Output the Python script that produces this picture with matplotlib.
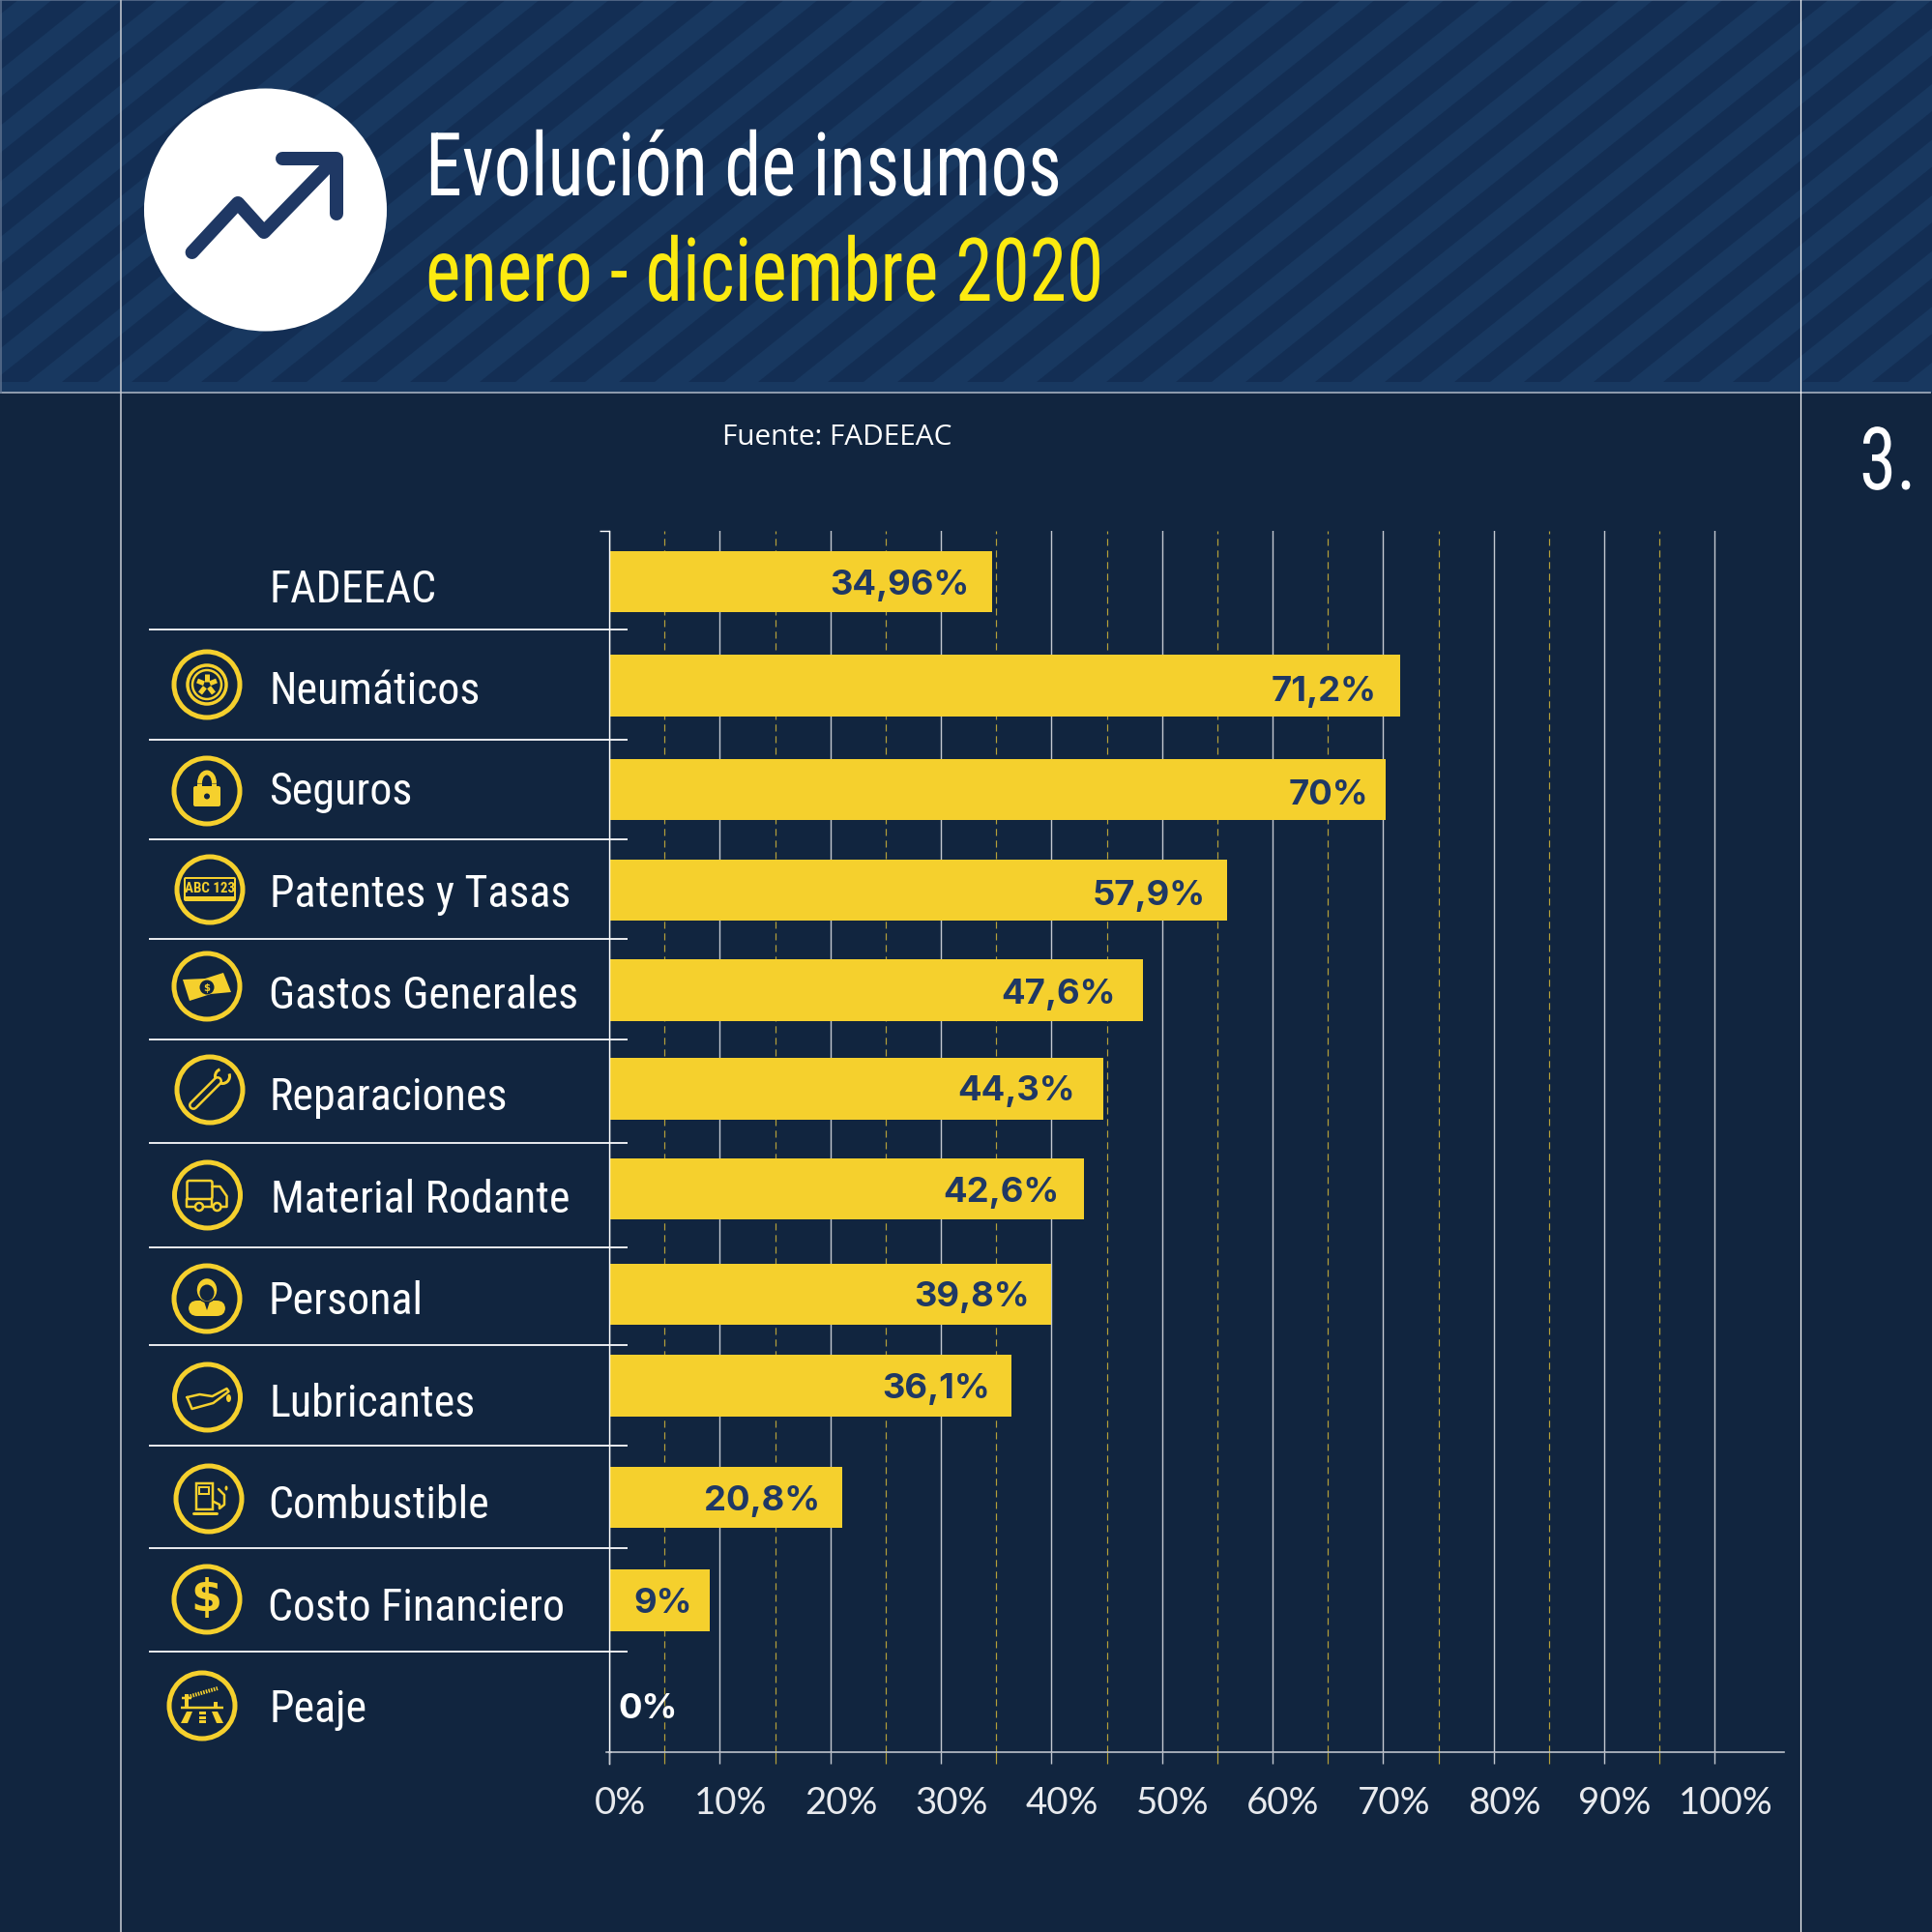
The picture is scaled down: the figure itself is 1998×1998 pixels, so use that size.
import matplotlib
matplotlib.use("Agg")
import matplotlib.pyplot as plt
from matplotlib import font_manager as fm
from matplotlib.patches import Circle, Rectangle, Polygon, FancyBboxPatch, Arc, Ellipse
from matplotlib.patheffects import AbstractPathEffect
from matplotlib.transforms import Affine2D, ScaledTranslation

# ---- data ----
categories = ["FADEEAC", "Neumáticos", "Seguros", "Patentes y Tasas", "Gastos Generales",
              "Reparaciones", "Material Rodante", "Personal", "Lubricantes", "Combustible",
              "Costo Financiero", "Peaje"]
# bar lengths as drawn in the picture (they differ slightly from the printed labels)
bar_values = [34.67, 71.5, 70.2, 55.85, 48.3, 44.7, 42.9, 40.0, 36.4, 21.1, 9.1, 0]
value_labels = ["34,96%", "71,2%", "70%", "57,9%", "47,6%", "44,3%", "42,6%", "39,8%",
                "36,1%", "20,8%", "9%", "0%"]
major_ticks = [0, 10, 20, 30, 40, 50, 60, 70, 80, 90, 100]
minor_ticks = [5, 15, 25, 35, 45, 55, 65, 75, 85, 95]
title_1 = "Evolución de insumos"
title_2 = "enero - diciembre 2020"
source = "Fuente: FADEEAC"
page_number = "3."

# ---- layout (pixels) ----
bar_centers = [602.5, 710, 817.5, 921.5, 1025, 1127, 1230.5, 1339.5, 1434, 1549.5, 1656, 1766]
bar_h = 63.5
label_x = [279, 279, 278, 279, 278, 279, 280, 278, 279, 277, 277, 279]
label_base = [623, 728, 832, 938, 1043, 1148, 1254, 1359, 1465, 1570, 1676, 1781]
value_right = [1003, 1424, 1415, 1247, 1154, 1112, 1096, 1065, 1024, 848, 716]
value_base = [615, 725, 832, 936, 1038, 1138, 1243, 1351, 1446, 1562, 1668, 1777]
separators = [652, 766, 869, 972, 1076, 1183, 1291, 1392, 1496, 1602, 1709]
icon_pos = {"tire": (214, 709), "lock": (214, 819), "plate": (217, 921), "money": (214, 1021),
            "wrench": (217, 1128), "truck": (214.5, 1237), "person": (214, 1344),
            "oil": (214.5, 1446), "fuel": (216, 1551), "dollar": (214, 1655), "toll": (209, 1765)}

BG = "#11253f"; DARK = "#132e54"; LIGHT = "#183860"; YEL = "#f5d02d"; TY = "#fcea10"
LINE = "#c3c8d0"; NAVY = "#1f3864"; DASH = "#b5a03a"; EDGE = "#9aa6b6"
avail = {f.name for f in fm.fontManager.ttflist}
def pick(*names):
    for n in names:
        if n in avail:
            return n
    return "DejaVu Sans"
NARROW = pick("Liberation Sans Narrow", "Roboto Condensed", "Open Sans Condensed", "DejaVu Sans")
px = 0.72


class Squeeze(AbstractPathEffect):
    """Draw a text narrower about a vertical line; the text stays a text artist."""
    def __init__(self, sx, x0):
        super().__init__()
        self.sx, self.x0 = sx, x0

    def draw_path(self, renderer, gc, tpath, affine, rgbFace=None):
        squeeze = Affine2D().translate(-self.x0, 0).scale(self.sx, 1).translate(self.x0, 0)
        renderer.draw_path(gc, tpath, affine + squeeze, rgbFace)


fig = plt.figure(figsize=(19.99, 19.99), dpi=100, facecolor=BG)
bg = fig.add_axes([0, 0, 1, 1], zorder=0)
bg.set_xlim(0, 1999); bg.set_ylim(1999, 0); bg.axis("off")

# header
bg.add_patch(Rectangle((0, 0), 1999, 407, fc=LIGHT, ec="none"))
run = 396 / 0.8
for k in range(-10, 30):
    x0 = k * 72 + 64
    bg.add_patch(Polygon([(x0, 396), (x0 + 37, 396), (x0 + 37 + run, 0), (x0 + run, 0)], fc=DARK, ec="none"))
bg.set_xlim(0, 1999); bg.set_ylim(1999, 0)
bg.plot([0, 1996], [406.7, 406.7], color=EDGE, lw=1.8 * px)
bg.plot([0, 1999], [1, 1], color="#5f7391", lw=1.5 * px)
bg.plot([1, 1], [0, 407], color="#5f7391", lw=1.5 * px)
bg.plot([125, 125], [0, 1999], color=LINE, lw=1.6 * px)
bg.plot([1862.3, 1862.3], [0, 1999], color="white", lw=1.2 * px)

# header icon
bg.add_patch(Circle((274.5, 218), 125.5, fc="white", ec="none"))
bg.plot([198.6, 246, 273, 344], [262, 211, 241, 168], color=NAVY, lw=14 * px,
        solid_capstyle="round", solid_joinstyle="round")
bg.plot([292, 348, 348], [165, 165, 222], color=NAVY, lw=14 * px,
        solid_capstyle="round", solid_joinstyle="round")

bg.text(440, 203, title_1, color="white", family=NARROW, fontsize=91 * px, va="baseline",
        path_effects=[Squeeze(0.84, 440)])
bg.text(440, 312, title_2, color=TY, family=NARROW, fontsize=91 * px, va="baseline",
        path_effects=[Squeeze(0.852, 440)])
bg.text(747, 452, source, color="white", family="Open Sans", fontsize=29.8 * px, va="center")
bg.text(1923, 507, page_number, color="white", family=NARROW, fontsize=90 * px, va="baseline",
        path_effects=[Squeeze(0.86, 1923)])

# row labels and separators
for y in separators:
    bg.plot([155, 648], [y, y], color="#e4e6ea", lw=2 * px)
for name, x, y in zip(categories, label_x, label_base):
    bg.text(x, y, name, color="white", family=NARROW, fontsize=46 * px, va="baseline")

# icons
def ring(cx, cy):
    bg.add_patch(Circle((cx, cy), 34, fc="none", ec=YEL, lw=5 * px))

def line(pts, cx, cy, lw=3, c=YEL, cap="round"):
    bg.plot([cx + p[0] for p in pts], [cy + p[1] for p in pts], color=c, lw=lw * px,
            solid_capstyle=cap, solid_joinstyle="round")

for key, (cx, cy) in icon_pos.items():
    ring(cx, cy)
    if key == "tire":
        bg.add_patch(Circle((cx, cy), 20, fc="none", ec=YEL, lw=3.5 * px))
        bg.add_patch(Circle((cx, cy), 15, fc="none", ec=YEL, lw=2.5 * px))
        for dx, dy in [(0, -11), (10, -4), (7, 9), (-7, 9), (-10, -4)]:
            line([(dx * .3, dy * .3), (dx, dy)], cx, cy, lw=5, cap="butt")
        bg.add_patch(Circle((cx, cy), 2, fc=BG, ec="none"))
    elif key == "lock":
        bg.add_patch(FancyBboxPatch((cx - 14, cy - 5), 28, 21, boxstyle="round,pad=0,rounding_size=2", fc=YEL, ec="none"))
        bg.add_patch(Arc((cx, cy - 8), 15, 22, theta1=180, theta2=360, ec=YEL, lw=5 * px))
        line([(-7.5, -8), (-7.5, -3)], cx, cy, lw=5, cap="butt")
        line([(7.5, -8), (7.5, -3)], cx, cy, lw=5, cap="butt")
        bg.add_patch(Circle((cx, cy + 5.5), 3, fc=BG, ec="none"))
    elif key == "plate":
        bg.add_patch(FancyBboxPatch((cx - 27, cy - 13), 54, 25, boxstyle="round,pad=0,rounding_size=2", fc=YEL, ec="none"))
        bg.add_patch(Rectangle((cx - 25, cy - 11), 50, 18, fc=BG, ec="none"))
        bg.text(cx, cy - 2, "ABC 123", color=YEL, family=NARROW, weight="bold", fontsize=15 * px, ha="center", va="center")
    elif key == "money":
        bg.add_patch(Polygon([(cx - 25, cy - 7), (cx - 2, cy - 8), (cx + 17, cy - 14), (cx + 25, cy + 6),
                              (cx + 4, cy + 8), (cx - 18, cy + 15)], fc=YEL, ec="none"))
        bg.add_patch(Circle((cx, cy + 1), 7.5, fc=BG, ec="none"))
        bg.text(cx, cy + 1, "$", color=YEL, family="DejaVu Sans", weight="bold", fontsize=10 * px, ha="center", va="center")
    elif key == "wrench":
        line([(-17, 16), (8, -9)], cx, cy, lw=10)
        line([(-17, 16), (8, -9)], cx, cy, lw=5, c=BG)
        bg.add_patch(Arc((cx + 13, cy - 14), 15, 15, theta1=-20, theta2=250, ec=YEL, lw=3 * px))
    elif key == "truck":
        bg.add_patch(FancyBboxPatch((cx - 21, cy - 15), 26, 19, boxstyle="round,pad=0,rounding_size=2", fc="none", ec=YEL, lw=2.5 * px))
        line([(5, -9), (13, -9), (20, 1), (20, 12), (15, 12)], cx, cy, lw=2.5)
        line([(-21, 4), (-21, 12), (-13, 12)], cx, cy, lw=2.5)
        line([(-4, 12), (5, 12)], cx, cy, lw=2.5)
        line([(5, 4), (5, 12)], cx, cy, lw=2.5)
        bg.add_patch(Circle((cx - 8.5, cy + 12), 4, fc=BG, ec=YEL, lw=2.5 * px))
        bg.add_patch(Circle((cx + 10, cy + 12), 4, fc=BG, ec=YEL, lw=2.5 * px))
    elif key == "person":
        bg.add_patch(FancyBboxPatch((cx - 19, cy + 2), 38, 16, boxstyle="round,pad=0,rounding_size=9", fc=YEL, ec="none"))
        bg.add_patch(Ellipse((cx, cy - 9), 22, 25, fc=YEL, ec=BG, lw=1.5 * px))
        bg.add_patch(Ellipse((cx, cy - 6), 15, 17, fc=BG, ec="none"))
        bg.add_patch(Polygon([(cx - 3, cy + 3), (cx + 3, cy + 3), (cx, cy + 12)], fc=BG, ec="none"))
    elif key == "oil":
        line([(-21, 0), (-8, -3), (5, -1), (20, -9), (22, -6), (6, 6), (-16, 12), (-21, 0)], cx, cy, lw=2.5)
        bg.add_patch(Ellipse((cx + 22, cy + 1), 5, 8, fc=YEL, ec="none"))
    elif key == "fuel":
        bg.add_patch(Rectangle((cx - 13, cy - 16), 17, 27, fc="none", ec=YEL, lw=2.5 * px))
        bg.add_patch(Rectangle((cx - 9.5, cy - 12), 10, 7, fc="none", ec=YEL, lw=2 * px))
        line([(-16, 15), (8, 15)], cx, cy, lw=3)
        line([(5, 3), (11, 6), (11, 10), (16, 6), (16, -4), (10, -10)], cx, cy, lw=2.5)
        bg.add_patch(Ellipse((cx + 18, cy - 11), 3, 5, fc=YEL, ec="none"))
    elif key == "dollar":
        bg.text(cx - 1, cy - 1, "$", color=YEL, family="DejaVu Sans", weight="bold", fontsize=46 * px, ha="center", va="center")
    elif key == "toll":
        line([(-22, 2), (22, 2)], cx, cy, lw=2.5, cap="butt")
        bg.plot([cx - 15, cx + 16], [cy - 9, cy - 18], color=YEL, lw=4 * px, ls=(0, (0.4, 0.3)))
        line([(-16, -12), (-16, 1)], cx, cy, lw=4, cap="butt")
        line([(-21, -8), (-11, -8)], cx, cy, lw=2.5, cap="butt")
        line([(14, -4), (14, 1)], cx, cy, lw=4, cap="butt")
        bg.add_patch(Polygon([(cx - 16, cy + 6), (cx - 10, cy + 6), (cx - 15, cy + 18), (cx - 22, cy + 18)], fc=YEL, ec="none"))
        bg.add_patch(Polygon([(cx + 10, cy + 6), (cx + 16, cy + 6), (cx + 22, cy + 18), (cx + 15, cy + 18)], fc=YEL, ec="none"))
        for a, b in [(6, 9), (11, 14), (15, 18)]:
            bg.add_patch(Rectangle((cx - 3, cy + a), 7, b - a, fc=YEL, ec="none"))

# chart
X0, X100, XR, YT, YB = 630, 1773.5, 1845, 550, 1813
ax = fig.add_axes([X0 / 1999, 1 - YB / 1999, (XR - X0) / 1999, (YB - YT) / 1999], zorder=2)
ax.patch.set_alpha(0)
ax.set_xlim(0, 100 * (XR - X0) / (X100 - X0))
ax.set_ylim(YB, YT)
ax.set_axisbelow(True)
ax.barh(bar_centers, bar_values, height=bar_h, color=YEL, edgecolor="none")
ax.set_xticks(major_ticks)
ax.set_xticks(minor_ticks, minor=True)
ax.set_xticklabels([f"{t}%" for t in major_ticks], family="Lato", fontsize=38.5 * px, color="#e8eaee")
ax.set_yticks([YT]); ax.set_yticklabels([""])
ax.tick_params(axis="y", length=10 * px, width=1.4 * px, color="white", direction="out")
ax.tick_params(axis="x", which="major", length=12 * px, width=1.4 * px, color=LINE, pad=16)
ax.tick_params(axis="x", which="minor", length=12 * px, width=1.2 * px, color=DASH)
ax.grid(axis="x", which="major", color=LINE, lw=1.4 * px)
ax.grid(axis="x", which="minor", color=DASH, lw=1.2 * px, ls=(0, (6, 4)))
ax.grid(axis="y", visible=False)
for s in ("top", "right"):
    ax.spines[s].set_visible(False)
ax.spines["left"].set_color("white"); ax.spines["left"].set_linewidth(1.4 * px)
ax.spines["bottom"].set_color(LINE); ax.spines["bottom"].set_linewidth(1.6 * px)
bg.plot([627, 632], [YB, YB], color=LINE, lw=1.6 * px)
bg.plot([630, 630], [YB, 1825], color="white", lw=1.4 * px)
off = ScaledTranslation(11 / 100, 0, fig.dpi_scale_trans)
for lab in ax.get_xticklabels():
    lab.set_transform(lab.get_transform() + off)
k = (X100 - X0) / 100
for t, r, y in zip(value_labels[:-1], value_right, value_base[:-1]):
    ax.text((r - X0) / k, y, t, color=NAVY, family="Inter", weight="bold", fontsize=36.5 * px, ha="right", va="baseline")
ax.text(9 / k, value_base[-1], value_labels[-1], color="white", family="Inter", weight="bold",
        fontsize=36.5 * px, ha="left", va="baseline")

fig.savefig("out.png", dpi=100, facecolor=BG)
